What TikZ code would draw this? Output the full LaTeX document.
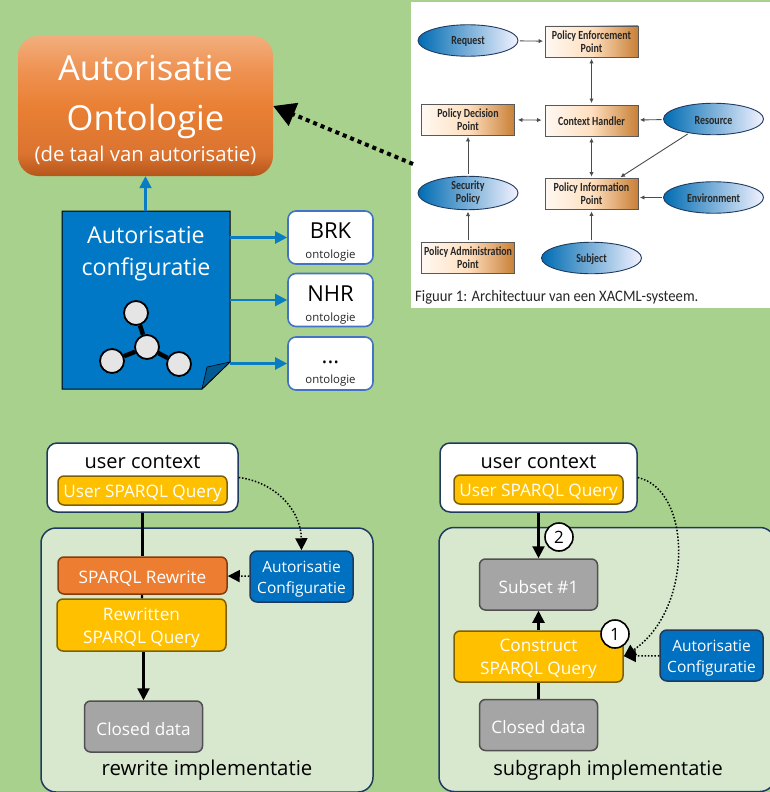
\documentclass[tikz,border=0pt]{standalone}
\usepackage{fontspec}
\setmainfont{Open Sans}
\newfontfamily\figfont[FakeStretch=0.8]{Carlito}
\newfontfamily\capfont[FakeStretch=0.915]{Carlito}
\usepackage{tikz}
\usetikzlibrary{arrows.meta, shapes.geometric}
\definecolor{pagegreen}{HTML}{A9D18E}
\definecolor{panelgreen}{HTML}{D8E8CE}
\definecolor{navyline}{HTML}{1F3A5F}
\definecolor{docblue}{HTML}{0078C6}
\definecolor{arrowblue}{HTML}{0A7CC2}
\definecolor{framed}{HTML}{4472C4}
\definecolor{queryfill}{HTML}{FFC000}
\definecolor{queryline}{HTML}{7F6000}
\definecolor{rewritefill}{HTML}{ED7D31}
\definecolor{rewriteline}{HTML}{843C0C}
\definecolor{greyfill}{HTML}{A5A5A5}
\definecolor{greyline}{HTML}{505050}
\definecolor{cfgfill}{HTML}{0070C0}
\definecolor{ontotop}{HTML}{F2AE7C}
\definecolor{ontoupper}{HTML}{EE9150}
\definecolor{ontomid}{HTML}{E98034}
\definecolor{ontolow}{HTML}{DB7430}
\definecolor{ontobottom}{HTML}{B5561A}
\pgfdeclareverticalshading{ontoshade}{100bp}{color(0bp)=(ontobottom); color(25bp)=(ontobottom); color(33bp)=(ontolow); color(50bp)=(ontomid); color(62bp)=(ontoupper); color(75bp)=(ontotop); color(100bp)=(ontotop)}
\tikzset{
    panel/.style={rectangle, rounded corners=15pt, draw=navyline, line width=1.5pt, fill=panelgreen, minimum width=332pt, minimum height=264pt},
    ctxbox/.style={rectangle, rounded corners=10pt, draw=navyline, line width=1.5pt, fill=white, minimum height=69pt, text depth=33pt, text height=14pt, inner sep=0pt, font=\fontsize{20}{24}\selectfont},
    stepbox/.style={rectangle, rounded corners=6pt, draw, line width=1.5pt, inner sep=0pt, text=white, align=center, font=\fontsize{17.2}{23}\selectfont, execute at begin node=\rule{0pt}{18pt}},
    querybox/.style={stepbox, draw=queryline, fill=queryfill, minimum width=169pt},
    greybox/.style={stepbox, draw=greyline, fill=greyfill, minimum width=118pt, minimum height=51pt},
    cfgbox/.style={stepbox, rounded corners=7pt, draw=navyline, fill=cfgfill, minimum width=103pt, minimum height=51pt, text height=38pt, font=\fontsize{15.5}{21}\selectfont},
    ontobox/.style={rectangle, rounded corners=8pt, draw=framed, line width=1.6pt, fill=white, minimum width=85pt, minimum height=53pt, inner sep=0pt},
    ontotitle/.style={inner sep=0pt, text=black, font=\fontsize{22}{26}\selectfont},
    ontosub/.style={inner sep=0pt, text=black!85, font=\fontsize{11.4}{14}\selectfont},
    bigwhite/.style={inner sep=0pt, text=white, font=\fontsize{34.5}{40}\selectfont},
    atom/.style={circle, draw=black, line width=1.8pt, fill=black!10, minimum size=24pt, inner sep=0pt},
    numbered/.style={circle, draw=black, line width=1.6pt, fill=white, minimum size=28pt, inner sep=0pt, font=\fontsize{17}{20}\selectfont},
    polbox/.style={rectangle, draw=black!65, line width=0.9pt, left color=orange!5, right color=brown!85!orange, middle color=orange!25, minimum width=93pt, minimum height=31pt, inner sep=0pt, align=center, font=\figfont\bfseries\fontsize{12.4}{13}\selectfont, text=black!85, execute at begin node=\rule{0pt}{10.5pt}},
    polell/.style={ellipse, draw=navyline, line width=0.9pt, left color=docblue!90!black, right color=blue!5, minimum width=100pt, minimum height=31.5pt, inner sep=0pt, align=center, font=\figfont\bfseries\fontsize{12.4}{13}\selectfont, text=black!85, execute at begin node=\rule{0pt}{10.5pt}},
    polline/.style={draw=black!70, line width=0.9pt, shorten >=1.5pt, shorten <=1.5pt},
    polarrow/.style={polline, -{Latex[length=4.5pt,width=4.5pt]}},
    polboth/.style={polline, {Latex[length=4.5pt,width=4.5pt]}-{Latex[length=4.5pt,width=4.5pt]}},
    bluearrow/.style={draw=arrowblue, line width=2.2pt, -{Triangle[length=12pt,width=12pt]}},
    blackline/.style={draw=black, line width=2.2pt},
    blackarrow/.style={blackline, -{Triangle[length=12pt,width=12pt]}},
    dotarrow/.style={draw=black, line width=1.5pt, dash pattern=on 1.5pt off 1.8pt, -{Triangle[length=12pt,width=12pt]}},
    plainlabel/.style={inner sep=0pt, font=\fontsize{20.4}{24}\selectfont}
}

\begin{document}
\begin{tikzpicture}[x=1pt, y=-1pt]
    \useasboundingbox (0,0) rectangle (770,792);
    \fill[pagegreen] (0,0) rectangle (770,792);

    \node[rectangle, fill=white, minimum width=360pt, minimum height=306pt, inner sep=0pt] (Sheet) at (590.5,155) {};
    \node[polell] (Request) at (468,40.5) {Request};
    \node[polbox] (PEP) at (591.5,41.5) {Policy Enforcement\\Point};
    \node[polbox] (PDP) at (468,119.5) {Policy Decision\\Point};
    \node[polbox] (Handler) at (591.5,120.5) {Context Handler};
    \node[polell] (Resource) at (713.5,119) {Resource};
    \node[polell] (Security) at (468,193) {Security\\Policy};
    \node[polbox] (PIP) at (591.5,194) {Policy Information\\Point};
    \node[polell] (Environment) at (713.5,197.5) {Environment};
    \node[polbox] (PAP) at (468,257.5) {Policy Administration\\Point};
    \node[polell] (Subject) at (591.5,258) {Subject};
    \node[anchor=west, inner sep=0pt, font=\capfont\fontsize{16}{18}\selectfont, text=black!85] (Caption) at (415,297) {Figuur 1: Architectuur van een XACML-systeem.};
    \draw[polarrow] (Request) -- (PEP);
    \draw[polboth] (PEP) -- (Handler);
    \draw[polboth, shorten <=3pt, shorten >=3pt] (PDP) -- (Handler);
    \draw[polarrow] (Resource) -- (Handler);
    \draw[polboth] (Handler) -- (PIP);
    \draw[polarrow] (Resource.210) -- (PIP.30);
    \draw[polarrow] (Environment.west) -- (PIP.east |- Environment.west);
    \draw[polarrow] (Subject) -- (PIP);
    \draw[polarrow] (Security) -- (PDP);
    \draw[polarrow] (PAP) -- (Security);

    \node[rectangle, rounded corners=20pt, shading=ontoshade, minimum width=255pt, minimum height=140pt, inner sep=0pt] (Onto) at (145.5,106) {};
    \node[bigwhite] (OntoOne) at (145.5,68) {Autorisatie};
    \node[bigwhite] (OntoTwo) at (145.5,122) {Ontologie};
    \node[bigwhite, font=\fontsize{20.3}{24}\selectfont] (OntoThree) at (145.5,155) {(de taal van autorisatie)};
    \coordinate (FigureEdge) at (413,164);
    \draw[draw=black, line width=4pt, dash pattern=on 4pt off 4pt, -{Triangle[length=22pt,width=24pt]}] (FigureEdge) -- (Onto.east);

    \node[rectangle, minimum width=168pt, minimum height=178pt, inner sep=0pt] (Doc) at (146,300) {};
    \draw[black, line width=1pt, fill=docblue] (62,211) -- (230,211) -- (230,362) -- (202,389) -- (62,389) -- cycle;
    \draw[black, line width=0.6pt, fill=docblue!75!black] (230,362) -- (207,367) -- (202,389) -- cycle;
    \node[inner sep=0pt, text=white, align=center, font=\fontsize{23.2}{32}\selectfont] (DocTitle) at (146,254) {Autorisatie\\configuratie};
    \node[atom] (AtomTop) at (136,313) {};
    \node[atom] (AtomMid) at (147,347) {};
    \node[atom] (AtomLeft) at (112,361) {};
    \node[atom] (AtomRight) at (179,364) {};
    \draw[line width=4.5pt] (AtomMid) -- (AtomTop);
    \draw[line width=4.5pt] (AtomMid) -- (AtomLeft);
    \draw[line width=4.5pt] (AtomMid) -- (AtomRight);

    \node[ontobox] (BRK) at (330.5,237.5) {};
    \node[ontotitle] (BRKName) at (330.5,231) {BRK};
    \node[ontosub] (BRKSub) at (330.5,255.5) {ontologie};
    \node[ontobox] (NHR) at (330.5,300) {};
    \node[ontotitle] (NHRName) at (330.5,294) {NHR};
    \node[ontosub] (NHRSub) at (330.5,318.5) {ontologie};
    \node[ontobox] (Other) at (330.5,363.5) {};
    \node[ontotitle] (OtherName) at (330.5,362) {...};
    \node[ontosub] (OtherSub) at (330.5,380.5) {ontologie};
    \draw[bluearrow] (Doc.north -| Onto.south) -- (Onto.south);
    \draw[bluearrow] (Doc.east |- BRK) -- (BRK);
    \draw[bluearrow] (Doc.east |- NHR) -- (NHR);
    \draw[bluearrow] (Doc.east |- Other) -- (Other);

    \node[panel] (PanelA) at (207,660) {};
    \node[ctxbox, minimum width=191pt] (CtxA) at (142.5,477.5) {user context};
    \node[querybox, minimum height=29pt] (UserA) at (142.5,490.5) {User SPARQL Query};
    \node[stepbox, draw=rewriteline, fill=rewritefill, minimum width=169pt, minimum height=37pt] (Rewrite) at (142.5,575.5) {SPARQL Rewrite};
    \node[querybox, minimum height=52pt, text height=42pt] (Rewritten) at (141.5,625) {Rewritten\\SPARQL Query};
    \node[greybox] (ClosedA) at (143.5,726.5) {Closed data};
    \node[cfgbox] (CfgA) at (301.5,576.5) {Autorisatie\\Configuratie};
    \node[plainlabel] (LabelA) at (207,770) {rewrite implementatie};
    \draw[blackline] (CtxA) -- (Rewrite);
    \draw[blackline] (Rewrite) -- (Rewritten);
    \draw[blackarrow] (Rewritten.south -| ClosedA.north) -- (ClosedA.north);
    \draw[dotarrow] (CfgA) -- (Rewrite);
    \draw[dotarrow] (CtxA.east) .. controls (275,482) and (301,510) .. (CfgA.north);

    \node[panel, minimum width=336pt] (PanelB) at (607,659.5) {};
    \node[ctxbox, minimum width=197pt] (CtxB) at (538.5,477.5) {user context};
    \node[querybox, minimum height=29pt] (UserB) at (538.5,489.5) {User SPARQL Query};
    \node[greybox] (Subset) at (538.5,584.5) {Subset \#1};
    \node[querybox, minimum height=51pt, text height=40pt] (Construct) at (538.5,656.5) {Construct\\SPARQL Query};
    \node[greybox] (ClosedB) at (538.5,725) {Closed data};
    \node[cfgbox] (CfgB) at (711.5,655.5) {Autorisatie\\Configuratie};
    \node[plainlabel, font=\fontsize{20}{24}\selectfont] (LabelB) at (608,770) {subgraph implementatie};
    \draw[blackarrow] (CtxB) -- (Subset);
    \draw[blackarrow] (Construct) -- (Subset);
    \draw[blackline] (ClosedB) -- (Construct);
    \draw[dotarrow] (CfgB) -- (Construct);
    \draw[dotarrow] (CtxB.east) .. controls (693,490) and (693,610) .. (Construct.east);
    \node[numbered] (NumTwo) at (559,537) {2};
    \node[numbered] (NumOne) at (615,634) {1};
\end{tikzpicture}
\end{document}
